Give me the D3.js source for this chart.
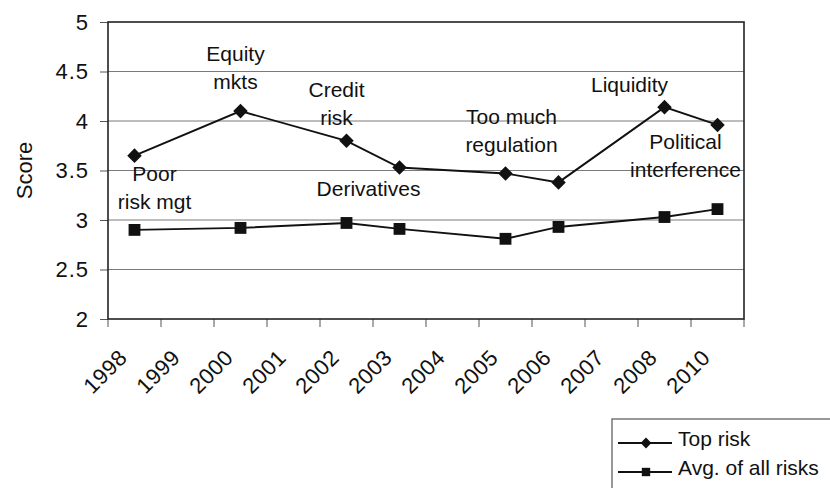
<html>
<head>
<meta charset="utf-8">
<title>Top risk score</title>
<script src="https://d3js.org/d3.v7.min.js"></script>
<style type="text/css">
	body { margin: 0; background: #fff; }
	text { font-family: "Liberation Sans", Arial, sans-serif; fill: #111; }
</style>
</head>
<body>
<div id="chart"></div>
<script type="text/javascript">

// categories on the x axis (2009 is missing in the original)
const years = ['1998', '1999', '2000', '2001', '2002', '2003', '2004', '2005', '2006', '2007', '2008', '2010'];
// years that have a survey value
const surveyYears = ['1998', '2000', '2002', '2003', '2005', '2006', '2008', '2010'];
const topRisk = [3.65, 4.10, 3.80, 3.53, 3.47, 3.38, 4.14, 3.96];
const avgRisk = [2.90, 2.92, 2.97, 2.91, 2.81, 2.93, 3.03, 3.11];
// name of the top risk each year
const topRiskNames = [['Poor', 'risk mgt'], ['Equity', 'mkts'], ['Credit', 'risk'], ['Derivatives'],
	['Too much', 'regulation'], [], ['Liquidity'], ['Political', 'interference']];
const yTicks = [2, 2.5, 3, 3.5, 4, 4.5, 5];
const seriesNames = ['Top risk', 'Avg. of all risks'];

const width = 830,
	height = 488,
	margin = {top: 22, right: 86, bottom: 169, left: 108};

// where each label sits relative to its point (pixels)
const labelOffsets = [[20, 25], [-5, -50], [-10, -44], [-31, 28], [6, -49], [0, 0], [-35, -15], [-32, 24]];

const svg = d3.select('#chart').append('svg')
	.attr('width', width)
	.attr('height', height);

const x = d3.scaleBand()
	.domain(years)
	.range([margin.left, width - margin.right])
	.padding(0);

const y = d3.scaleLinear()
	.domain([2, 5])
	.range([height - margin.bottom, margin.top]);

const cx = function(yr) { return x(yr) + x.bandwidth() / 2; };

// gridlines
svg.append('g')
	.selectAll('line')
	.data(yTicks.slice(1, -1))
	.enter().append('line')
		.attr('x1', margin.left)
		.attr('x2', width - margin.right)
		.attr('y1', function(d) { return y(d); })
		.attr('y2', function(d) { return y(d); })
		.attr('stroke', '#7a7a7a')
		.attr('stroke-width', 1);

// y axis
const yAxis = svg.append('g')
	.attr('transform', 'translate(' + margin.left + ',0)')
	.call(d3.axisLeft(y).tickValues(yTicks).tickSize(8).tickPadding(11).tickFormat(d3.format('')));
yAxis.select('.domain').remove();
yAxis.selectAll('line').attr('stroke', '#555');
yAxis.selectAll('text')
	.style('font-size', '22px')
	.style('letter-spacing', '1px')
	.attr('fill', '#111');

// x axis : ticks between categories
const xAxis = svg.append('g')
	.attr('transform', 'translate(0,' + (height - margin.bottom) + ')');
xAxis.selectAll('line')
	.data(years.concat(['end']))
	.enter().append('line')
		.attr('x1', function(d, i) { return margin.left + i * x.bandwidth(); })
		.attr('x2', function(d, i) { return margin.left + i * x.bandwidth(); })
		.attr('y1', 0)
		.attr('y2', 8)
		.attr('stroke', '#555');
xAxis.selectAll('text')
	.data(years)
	.enter().append('text')
		.attr('transform', function(d) { return 'translate(' + (cx(d) - 6) + ',40) rotate(-45)'; })
		.attr('text-anchor', 'end')
		.style('font-size', '22px')
		.style('letter-spacing', '0.5px')
		.text(function(d) { return d; });

// plot frame
svg.append('rect')
	.attr('x', margin.left)
	.attr('y', margin.top)
	.attr('width', width - margin.right - margin.left)
	.attr('height', height - margin.bottom - margin.top)
	.attr('fill', 'none')
	.attr('stroke', '#222')
	.attr('stroke-width', 1.6);

svg.append('text')
	.attr('transform', 'translate(32,' + ((margin.top + height - margin.bottom) / 2) + ') rotate(-90)')
	.attr('text-anchor', 'middle')
	.style('font-size', '22px')
	.text('Score');

const line = d3.line()
	.x(function(d, i) { return cx(surveyYears[i]); })
	.y(function(d) { return y(d); });

[topRisk, avgRisk].forEach(function(values) {
	svg.append('path')
		.datum(values)
		.attr('d', line)
		.attr('fill', 'none')
		.attr('stroke', '#111')
		.attr('stroke-width', 1.9);
});

const diamond = d3.symbol().type(d3.symbolDiamond2).size(135);
const square = d3.symbol().type(d3.symbolSquare).size(140);

svg.append('g').selectAll('path')
	.data(topRisk)
	.enter().append('path')
		.attr('d', diamond)
		.attr('transform', function(d, i) { return 'translate(' + cx(surveyYears[i]) + ',' + y(d) + ')'; })
		.attr('fill', '#111');

svg.append('g').selectAll('path')
	.data(avgRisk)
	.enter().append('path')
		.attr('d', square)
		.attr('transform', function(d, i) { return 'translate(' + cx(surveyYears[i]) + ',' + y(d) + ')'; })
		.attr('fill', '#111');

// labels of the top risk
topRiskNames.forEach(function(lines, i) {
	const px = cx(surveyYears[i]) + labelOffsets[i][0],
		py = y(topRisk[i]) + labelOffsets[i][1];
	const t = svg.append('text')
		.attr('text-anchor', 'middle')
		.style('font-size', '21px');
	lines.forEach(function(s, j) {
		t.append('tspan')
			.attr('x', px)
			.attr('y', py + j * 28)
			.text(s);
	});
});

// legend
const legend = svg.append('g')
	.attr('transform', 'translate(612,419)');
legend.append('rect')
	.attr('width', 240)
	.attr('height', 90)
	.attr('fill', '#fff')
	.attr('stroke', '#555')
	.attr('stroke-width', 1.2);

const legendSymbols = [d3.symbol().type(d3.symbolDiamond2).size(75), d3.symbol().type(d3.symbolSquare).size(70)];
seriesNames.forEach(function(name, i) {
	const ly = 24 + i * 29;
	legend.append('line')
		.attr('x1', 6).attr('x2', 60)
		.attr('y1', ly).attr('y2', ly)
		.attr('stroke', '#111')
		.attr('stroke-width', 1.8);
	legend.append('path')
		.attr('d', legendSymbols[i])
		.attr('transform', 'translate(34,' + ly + ')')
		.attr('fill', '#111');
	legend.append('text')
		.attr('x', 66)
		.attr('y', ly + 3)
		.style('font-size', '21px')
		.text(name);
});

</script>
</body>
</html>
